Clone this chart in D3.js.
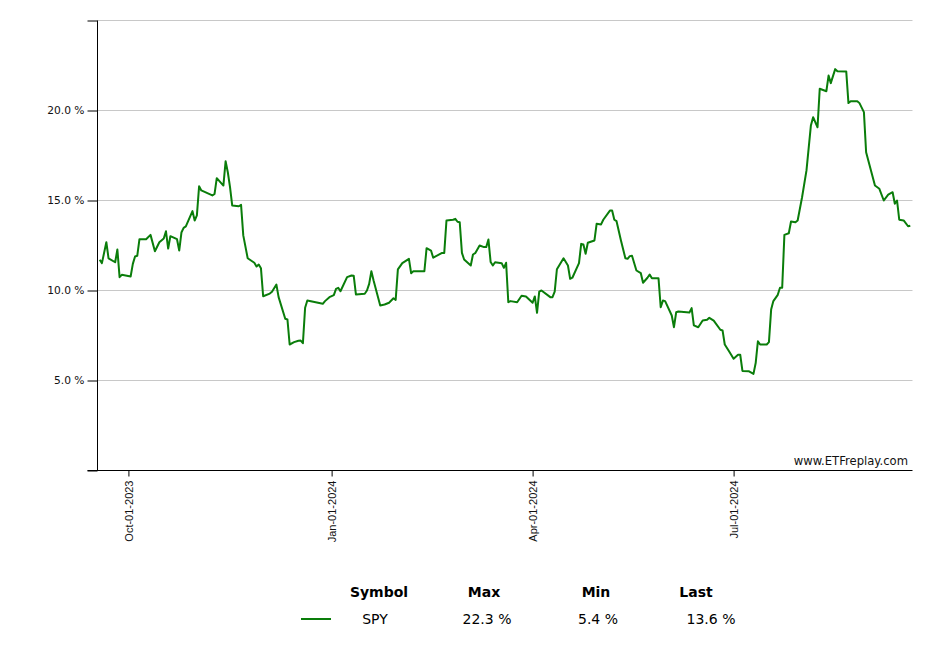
<!DOCTYPE html>
<html>
<head>
<meta charset="utf-8">
<script src="https://cdn.jsdelivr.net/npm/d3@7"></script>
<style>
  html, body { margin: 0; padding: 0; background: #fff; }
  svg { display: block; }
</style>
</head>
<body>
<svg id="chart" width="940" height="660"></svg>
<script>
// ---- data ----
const symbol = "SPY";
const dates = [
  "2023-09-18","2023-09-19","2023-09-21","2023-09-22","2023-09-25","2023-09-26","2023-09-27","2023-09-28",
  "2023-10-02","2023-10-03","2023-10-04","2023-10-05","2023-10-06","2023-10-09","2023-10-11","2023-10-13",
  "2023-10-15","2023-10-17","2023-10-18","2023-10-19","2023-10-20","2023-10-23","2023-10-24","2023-10-25",
  "2023-10-26","2023-10-27","2023-10-30","2023-10-31","2023-11-01","2023-11-02","2023-11-03","2023-11-08",
  "2023-11-09","2023-11-10","2023-11-13","2023-11-14","2023-11-15","2023-11-16","2023-11-17","2023-11-20",
  "2023-11-21","2023-11-22","2023-11-24","2023-11-27","2023-11-28","2023-11-29","2023-11-30","2023-12-01",
  "2023-12-04","2023-12-05","2023-12-07","2023-12-08","2023-12-11","2023-12-12","2023-12-13","2023-12-15",
  "2023-12-17","2023-12-18","2023-12-19","2023-12-20","2023-12-21","2023-12-28","2023-12-29","2023-12-31",
  "2024-01-02","2024-01-03","2024-01-04","2024-01-05","2024-01-08","2024-01-10","2024-01-11","2024-01-12",
  "2024-01-16","2024-01-17","2024-01-18","2024-01-19","2024-01-20","2024-01-23","2024-01-25","2024-01-27",
  "2024-01-29","2024-01-30","2024-01-31","2024-02-02","2024-02-05","2024-02-06","2024-02-07","2024-02-12",
  "2024-02-13","2024-02-15","2024-02-16","2024-02-20","2024-02-21","2024-02-22","2024-02-25","2024-02-26",
  "2024-02-27","2024-02-28","2024-02-29","2024-03-01","2024-03-04","2024-03-05","2024-03-06","2024-03-08",
  "2024-03-10","2024-03-11","2024-03-12","2024-03-13","2024-03-14","2024-03-15","2024-03-18","2024-03-19",
  "2024-03-20","2024-03-21","2024-03-22","2024-03-25","2024-03-27","2024-03-29","2024-04-01","2024-04-02",
  "2024-04-03","2024-04-04","2024-04-05","2024-04-09","2024-04-10","2024-04-11","2024-04-12","2024-04-15",
  "2024-04-17","2024-04-18","2024-04-19","2024-04-22","2024-04-23","2024-04-24","2024-04-25","2024-04-26",
  "2024-04-29","2024-04-30","2024-05-02","2024-05-03","2024-05-06","2024-05-07","2024-05-08","2024-05-09",
  "2024-05-11","2024-05-13","2024-05-14","2024-05-15","2024-05-16","2024-05-18","2024-05-20","2024-05-21",
  "2024-05-23","2024-05-24","2024-05-25","2024-05-28","2024-05-29","2024-05-30","2024-05-31","2024-06-03",
  "2024-06-04","2024-06-05","2024-06-06","2024-06-11","2024-06-12","2024-06-13","2024-06-15","2024-06-17",
  "2024-06-19","2024-06-20","2024-06-22","2024-06-25","2024-06-26","2024-06-27","2024-06-29","2024-07-01",
  "2024-07-03","2024-07-04","2024-07-05","2024-07-08","2024-07-10","2024-07-11","2024-07-12","2024-07-13",
  "2024-07-16","2024-07-17","2024-07-18","2024-07-19","2024-07-21","2024-07-22","2024-07-23","2024-07-24",
  "2024-07-26","2024-07-27","2024-07-29","2024-07-30","2024-08-01","2024-08-03","2024-08-05","2024-08-06",
  "2024-08-08","2024-08-09","2024-08-12","2024-08-13","2024-08-14","2024-08-16","2024-08-17","2024-08-21",
  "2024-08-22","2024-08-23","2024-08-26","2024-08-27","2024-08-29","2024-08-30","2024-09-03","2024-09-05",
  "2024-09-07","2024-09-09","2024-09-11","2024-09-12","2024-09-13","2024-09-14","2024-09-16","2024-09-18",
  "2024-09-19"
];
const values = [
  11.71,11.52,12.68,11.79,11.57,12.28,10.74,10.87,
  10.78,11.48,11.89,11.93,12.85,12.85,13.09,12.18,
  12.68,12.89,13.29,12.33,13.02,12.85,12.22,13.22,
  13.48,13.56,14.41,13.89,14.17,15.79,15.56,15.28,
  15.37,16.24,15.83,17.18,16.57,15.74,14.72,14.68,
  14.76,13.06,11.79,11.54,11.33,11.44,11.24,9.68,
  9.83,9.93,10.33,9.63,8.43,8.39,7.00,7.13,
  7.21,7.22,7.07,9.04,9.44,9.26,9.41,9.63,
  9.74,10.09,10.15,9.96,10.74,10.83,10.82,9.78,
  9.82,10.00,10.37,11.07,10.56,9.17,9.22,9.32,
  9.57,9.48,11.17,11.52,11.76,10.96,11.07,11.07,
  12.35,12.22,11.82,12.09,12.09,13.89,13.93,13.98,
  13.82,13.79,12.09,11.72,11.39,12.00,12.07,12.50,
  12.41,12.41,12.83,11.58,11.39,11.57,11.52,11.26,
  11.54,9.35,9.41,9.35,9.71,9.67,9.32,9.67,
  8.76,9.94,10.00,9.63,9.63,9.94,11.18,11.79,
  11.39,10.65,10.71,11.52,12.59,12.56,12.04,12.65,
  12.78,13.71,13.67,13.93,14.44,14.44,13.93,13.85,
  12.78,11.79,11.76,11.91,11.93,11.11,10.96,10.43,
  10.71,10.89,10.68,10.68,9.07,9.44,9.41,8.61,
  7.96,8.79,8.83,8.78,9.02,8.06,7.96,8.33,
  8.37,8.48,8.33,7.82,7.78,7.00,6.61,6.21,
  6.43,6.43,5.53,5.51,5.37,5.97,7.18,7.00,
  7.00,7.13,8.94,9.41,9.76,10.15,10.15,13.09,
  13.18,13.83,13.79,13.89,15.18,16.67,19.17,19.63,
  19.07,21.21,21.07,21.94,21.52,22.30,22.18,22.17,
  20.41,20.52,20.52,20.41,19.91,17.68,15.83,15.65,
  15.00,15.33,15.46,14.82,15.00,13.93,13.89,13.57,
  13.60
];
const yTickValues = [0, 5, 10, 15, 20, 25];
const xTickDates = ["2023-10-01", "2024-01-01", "2024-04-01", "2024-07-01"];
const xDomain = ["2023-09-17", "2024-09-20"];
const legendHeaders = ["Symbol", "Max", "Min", "Last"];
const watermark = "www.ETFreplay.com";

// ---- drawing ----
const parse = d3.timeParse("%Y-%m-%d");
const data = dates.map((d, i) => ({ date: parse(d), value: values[i] }));

const svg = d3.select("#chart");
const mLeft = 97.5, mRight = 912.5, mTop = 20.5, mBottom = 470.5;

const x = d3.scaleTime().domain(xDomain.map(parse)).range([mLeft, mRight]);
const y = d3.scaleLinear().domain([0, 25]).range([mBottom, mTop]);

// gridlines
svg.append("g")
  .selectAll("line")
  .data(yTickValues.filter(v => v > 0))
  .join("line")
  .attr("x1", mLeft).attr("x2", mRight)
  .attr("y1", d => y(d)).attr("y2", d => y(d))
  .attr("stroke", "#c8c8c8").attr("stroke-width", 1);

// y axis
const yAxis = d3.axisLeft(y)
  .tickValues(yTickValues)
  .tickSize(10)
  .tickPadding(3)
  .tickFormat(d => (d === 0 || d === 25) ? "" : d.toFixed(1) + " %");
const gy = svg.append("g").attr("transform", `translate(${mLeft},0)`).call(yAxis);
gy.select(".domain").attr("stroke", "#000").attr("d", `M0,${mTop}V${mBottom}`);
gy.selectAll(".tick line").attr("stroke", "#000");
gy.selectAll("text")
  .attr("font-family", "'DejaVu Sans', Verdana, sans-serif")
  .attr("font-size", "10.7px")
  .attr("fill", "#111");

// x axis
const fmt = d3.timeFormat("%b-%d-%Y");
const xAxis = d3.axisBottom(x)
  .tickValues(xTickDates.map(parse))
  .tickSize(6)
  .tickFormat(fmt);
const gx = svg.append("g").attr("transform", `translate(0,${mBottom})`).call(xAxis);
gx.select(".domain").attr("stroke", "#000").attr("d", `M${mLeft - 10},0H${mRight}`);
gx.selectAll(".tick line").attr("stroke", "#000");
gx.selectAll("text")
  .attr("font-family", "'Liberation Sans', Arial, sans-serif")
  .attr("font-size", "11px")
  .attr("fill", "#111")
  .attr("transform", "rotate(-90)")
  .attr("text-anchor", "end")
  .attr("x", -10)
  .attr("y", 0)
  .attr("dy", "0.35em");

// line
const line = d3.line().x(d => x(d.date)).y(d => y(d.value));
svg.append("path")
  .datum(data)
  .attr("fill", "none")
  .attr("stroke", "#0a7d0a")
  .attr("stroke-width", 2)
  .attr("stroke-linejoin", "round")
  .attr("d", line);

// watermark
svg.append("text")
  .attr("x", 908).attr("y", 465)
  .attr("text-anchor", "end")
  .attr("font-family", "'DejaVu Sans', Verdana, sans-serif")
  .attr("font-size", "11.6px")
  .attr("fill", "#111")
  .text(watermark);

// legend
const legendX = [379, 484, 596, 696];
const legendVals = [
  symbol,
  d3.max(values).toFixed(1) + " %",
  d3.min(values).toFixed(1) + " %",
  values[values.length - 1].toFixed(1) + " %"
];
const legendValX = [375, 487, 598, 711];
const lg = svg.append("g").attr("font-family", "'DejaVu Sans', Verdana, sans-serif").attr("font-size", "14px").attr("fill", "#000");
lg.selectAll("text.h").data(legendHeaders).join("text")
  .attr("class", "h")
  .attr("x", (d, i) => legendX[i]).attr("y", 597)
  .attr("text-anchor", "middle").attr("font-weight", "bold")
  .text(d => d);
lg.selectAll("text.v").data(legendVals).join("text")
  .attr("class", "v")
  .attr("x", (d, i) => legendValX[i]).attr("y", 624)
  .attr("text-anchor", "middle")
  .text(d => d);
lg.append("line")
  .attr("x1", 301).attr("x2", 331).attr("y1", 619).attr("y2", 619)
  .attr("stroke", "#0a7d0a").attr("stroke-width", 2);
</script>
</body>
</html>
